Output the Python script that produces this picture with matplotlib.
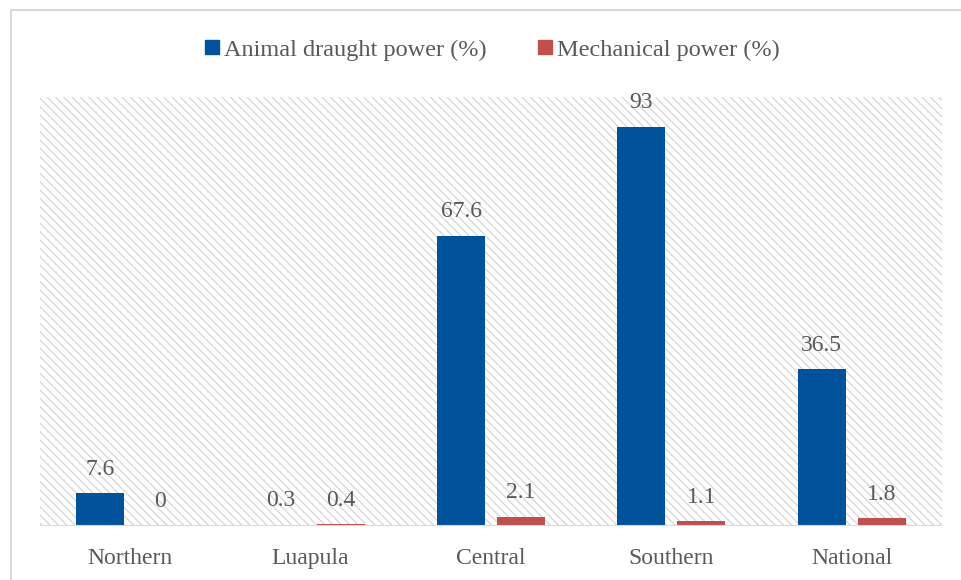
import numpy as np
import matplotlib
matplotlib.use("Agg")
import matplotlib.pyplot as plt
from matplotlib.patches import Rectangle
from matplotlib.lines import Line2D

regions = ["Northern", "Luapula", "Central", "Southern", "National"]
animal = [7.6, 0.3, 67.6, 93, 36.5]
mechanical = [0, 0.4, 2.1, 1.1, 1.8]
animal_labels = ["7.6", "0.3", "67.6", "93", "36.5"]
mech_labels = ["0", "0.4", "2.1", "1.1", "1.8"]

blue = "#00539b"
red = "#c0504d"
grey_txt = "#595959"

plt.rcParams['font.family'] = ['Liberation Serif', 'DejaVu Serif']
plt.rcParams['hatch.linewidth'] = 0.9

fig = plt.figure(figsize=(9.61, 5.80), dpi=100)
ax = fig.add_axes([40/961, 54/580, 902/961, 429/580])

# hatched plot background
ax.add_patch(Rectangle((0, 0), 1, 1, transform=ax.transAxes, facecolor='white',
                       edgecolor='#d6d6d6', linewidth=0, hatch='\\\\\\\\', zorder=0))

x = np.arange(len(regions))
w = 0.266
off = 0.166
ax.bar(x - off, animal, w, color=blue, zorder=2)
ax.bar(x + off, mechanical, w, color=red, zorder=2)

for xi, v, s in zip(x, animal, animal_labels):
    ax.text(xi - off, v + 3.2, s, ha='center', va='bottom', fontsize=17, color=grey_txt)
for xi, v, s in zip(x, mechanical, mech_labels):
    ax.text(xi + off, v + 3.2, s, ha='center', va='bottom', fontsize=17, color=grey_txt)

ax.set_xlim(-0.5, 4.5)
ax.set_ylim(0, 100)
ax.axhline(0, color='#d9d9d9', lw=1.5, zorder=3)
for s in ax.spines.values():
    s.set_visible(False)
ax.set_yticks([])
ax.set_xticks(x)
ax.set_xticklabels(regions, fontsize=17, color=grey_txt)
ax.tick_params(axis='x', length=0, pad=16)

handles = [Line2D([], [], marker='s', ls='', color=blue, markersize=10),
           Line2D([], [], marker='s', ls='', color=red, markersize=10)]
ax.legend(handles, ["Animal draught power (%)", "Mechanical power (%)"],
          loc='center', bbox_to_anchor=(0.5, 1.11), ncol=2, frameon=False,
          fontsize=17.5, labelcolor=grey_txt, handletextpad=0.1, columnspacing=2.0,
          handlelength=0.8)

# outer chart border
fig.add_artist(Line2D([10.5/961, 10.5/961], [0, 1 - 9.5/580], transform=fig.transFigure,
                      color='#d9d9d9', lw=1.5))
fig.add_artist(Line2D([10.5/961, 1], [1 - 9.5/580, 1 - 9.5/580], transform=fig.transFigure,
                      color='#d9d9d9', lw=1.5))

fig.savefig("out.png", dpi=100)
